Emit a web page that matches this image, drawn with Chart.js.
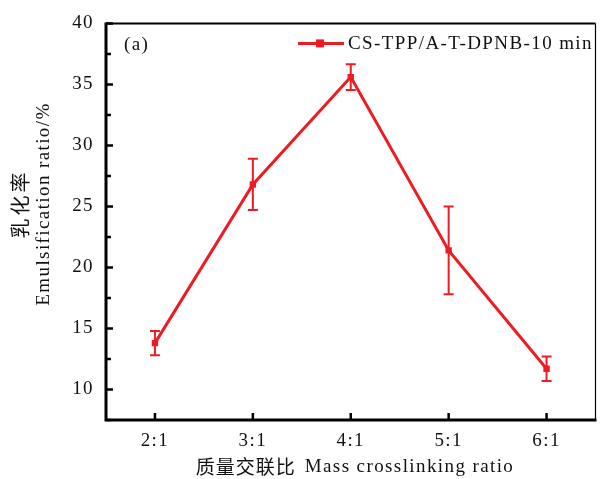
<!DOCTYPE html>
<html>
<head>
<meta charset="utf-8">
<script src="https://cdn.jsdelivr.net/npm/chart.js@4.4.0/dist/chart.umd.min.js"></script>
<style>
  html, body { margin: 0; padding: 0; background: #fff; }
  #wrap { width: 600px; height: 479px; }
</style>
</head>
<body>
<div id="wrap"><canvas id="c"></canvas></div>
<script>
const categories = ['2:1', '3:1', '4:1', '5:1', '6:1'];
const emulsification = [13.8, 26.8, 35.6, 21.4, 11.7];
const errors = [1.0, 2.1, 1.05, 3.6, 1.0];
const yTicks = [10, 15, 20, 25, 30, 35, 40];
const seriesLabel = 'CS-TPP/A-T-DPNB-10 min';
const yTitleCn = '乳化率';
const yTitleEn = 'Emulsification ratio/%';
const xTitleCn = '质量交联比';
const xTitleEn = 'Mass crosslinking ratio';

const red = '#ec1c24';
const serif = '"Liberation Serif", "Times New Roman", serif';
const cjk = '"Noto Sans CJK SC", sans-serif';
const spacing = '1.4px';

const spaced = {
  id: 'spaced',
  beforeDraw(chart) { chart.ctx.letterSpacing = spacing; }
};

const frame = {
  id: 'frame',
  afterDatasetsDraw(chart) {
    const ctx = chart.ctx;
    const a = chart.chartArea;
    const y = chart.scales.y;
    const x = chart.scales.x;
    const meta = chart.getDatasetMeta(0);

    // error bars
    ctx.save();
    ctx.strokeStyle = red;
    ctx.lineWidth = 2;
    meta.data.forEach((pt, i) => {
      const top = y.getPixelForValue(emulsification[i] + errors[i]);
      const bot = y.getPixelForValue(emulsification[i] - errors[i]);
      ctx.beginPath();
      ctx.moveTo(pt.x, top); ctx.lineTo(pt.x, bot);
      ctx.moveTo(pt.x - 5, top); ctx.lineTo(pt.x + 5, top);
      ctx.moveTo(pt.x - 5, bot); ctx.lineTo(pt.x + 5, bot);
      ctx.stroke();
    });
    ctx.restore();

    // axes frame
    ctx.save();
    ctx.strokeStyle = '#000';
    ctx.lineWidth = 1.2;
    ctx.beginPath();
    ctx.moveTo(a.right, a.top); ctx.lineTo(a.right, a.bottom);
    ctx.stroke();
    ctx.lineWidth = 2;
    ctx.beginPath();
    ctx.moveTo(a.left, a.top); ctx.lineTo(a.right, a.top);
    ctx.stroke();
    ctx.lineWidth = 3;
    ctx.beginPath();
    ctx.moveTo(a.left, a.top - 1); ctx.lineTo(a.left, a.bottom);
    ctx.lineTo(a.right + 1, a.bottom);
    ctx.stroke();

    // inward ticks
    ctx.lineWidth = 2.5;
    ctx.beginPath();
    for (let v = 7.5; v <= 40; v += 2.5) {
      const py = y.getPixelForValue(v);
      const len = (v % 5 === 0) ? 7 : 5;
      ctx.moveTo(a.left, py); ctx.lineTo(a.left + len, py);
    }
    categories.forEach((c, i) => {
      const px = x.getPixelForValue(i);
      ctx.moveTo(px, a.bottom); ctx.lineTo(px, a.bottom - 7);
    });
    ctx.stroke();
    ctx.restore();

    // panel tag and legend
    ctx.save();
    ctx.fillStyle = '#111';
    ctx.font = '19px ' + serif;
    ctx.textBaseline = 'middle';
    ctx.fillText('(a)', a.left + 18, a.top + 22);
    ctx.strokeStyle = red;
    ctx.lineWidth = 3;
    ctx.beginPath();
    ctx.moveTo(298, a.top + 20); ctx.lineTo(344, a.top + 20);
    ctx.stroke();
    ctx.fillStyle = red;
    ctx.fillRect(316, a.top + 16, 8, 8);
    ctx.fillStyle = '#111';
    ctx.fillText(seriesLabel, 348, a.top + 21);
    ctx.restore();

    // axis titles
    ctx.save();
    ctx.fillStyle = '#111';
    ctx.textBaseline = 'middle';
    // x title
    ctx.font = '19px ' + cjk;
    ctx.letterSpacing = '1px';
    const wCn = ctx.measureText(xTitleCn).width;
    ctx.font = '19px ' + serif;
    ctx.letterSpacing = spacing;
    const wEn = ctx.measureText(xTitleEn).width;
    const gap = 9;
    const sx = 355 - (wCn + gap + wEn) / 2;
    ctx.font = '19px ' + cjk;
    ctx.letterSpacing = '1px';
    ctx.fillText(xTitleCn, sx, 467);
    ctx.font = '19px ' + serif;
    ctx.letterSpacing = spacing;
    ctx.fillText(xTitleEn, sx + wCn + gap, 467);
    // y title
    ctx.translate(0, 204);
    ctx.rotate(-Math.PI / 2);
    ctx.textAlign = 'center';
    ctx.font = '20px ' + cjk;
    ctx.letterSpacing = '3px';
    ctx.fillText(yTitleCn, 0, 20);
    ctx.font = '19px ' + serif;
    ctx.letterSpacing = spacing;
    ctx.fillText(yTitleEn, 0, 44);
    ctx.restore();
  }
};

new Chart(document.getElementById('c'), {
  type: 'line',
  data: {
    labels: categories,
    datasets: [{
      label: seriesLabel,
      data: emulsification,
      borderColor: red,
      backgroundColor: red,
      borderWidth: 3,
      pointStyle: 'rect',
      pointRadius: 4.5,
      pointBorderWidth: 0,
      tension: 0
    }]
  },
  options: {
    responsive: true,
    maintainAspectRatio: false,
    animation: false,
    layout: { padding: { top: 20, right: 2, left: 0, bottom: 0 } },
    plugins: { legend: { display: false }, tooltip: { enabled: false } },
    scales: {
      x: {
        type: 'category',
        offset: true,
        grid: { display: false, drawTicks: false },
        border: { display: false },
        ticks: { color: '#111', font: { family: serif, size: 19 }, padding: 10 },
        afterFit(s) { s.height = 59; }
      },
      y: {
        min: 7.5,
        max: 40,
        grid: { display: false, drawTicks: false },
        border: { display: false },
        afterBuildTicks(s) { s.ticks = yTicks.map(v => ({ value: v })); },
        ticks: { color: '#111', font: { family: serif, size: 19 }, padding: 12 },
        afterFit(s) { s.width = 106; }
      }
    }
  },
  plugins: [spaced, frame]
});
</script>
</body>
</html>
